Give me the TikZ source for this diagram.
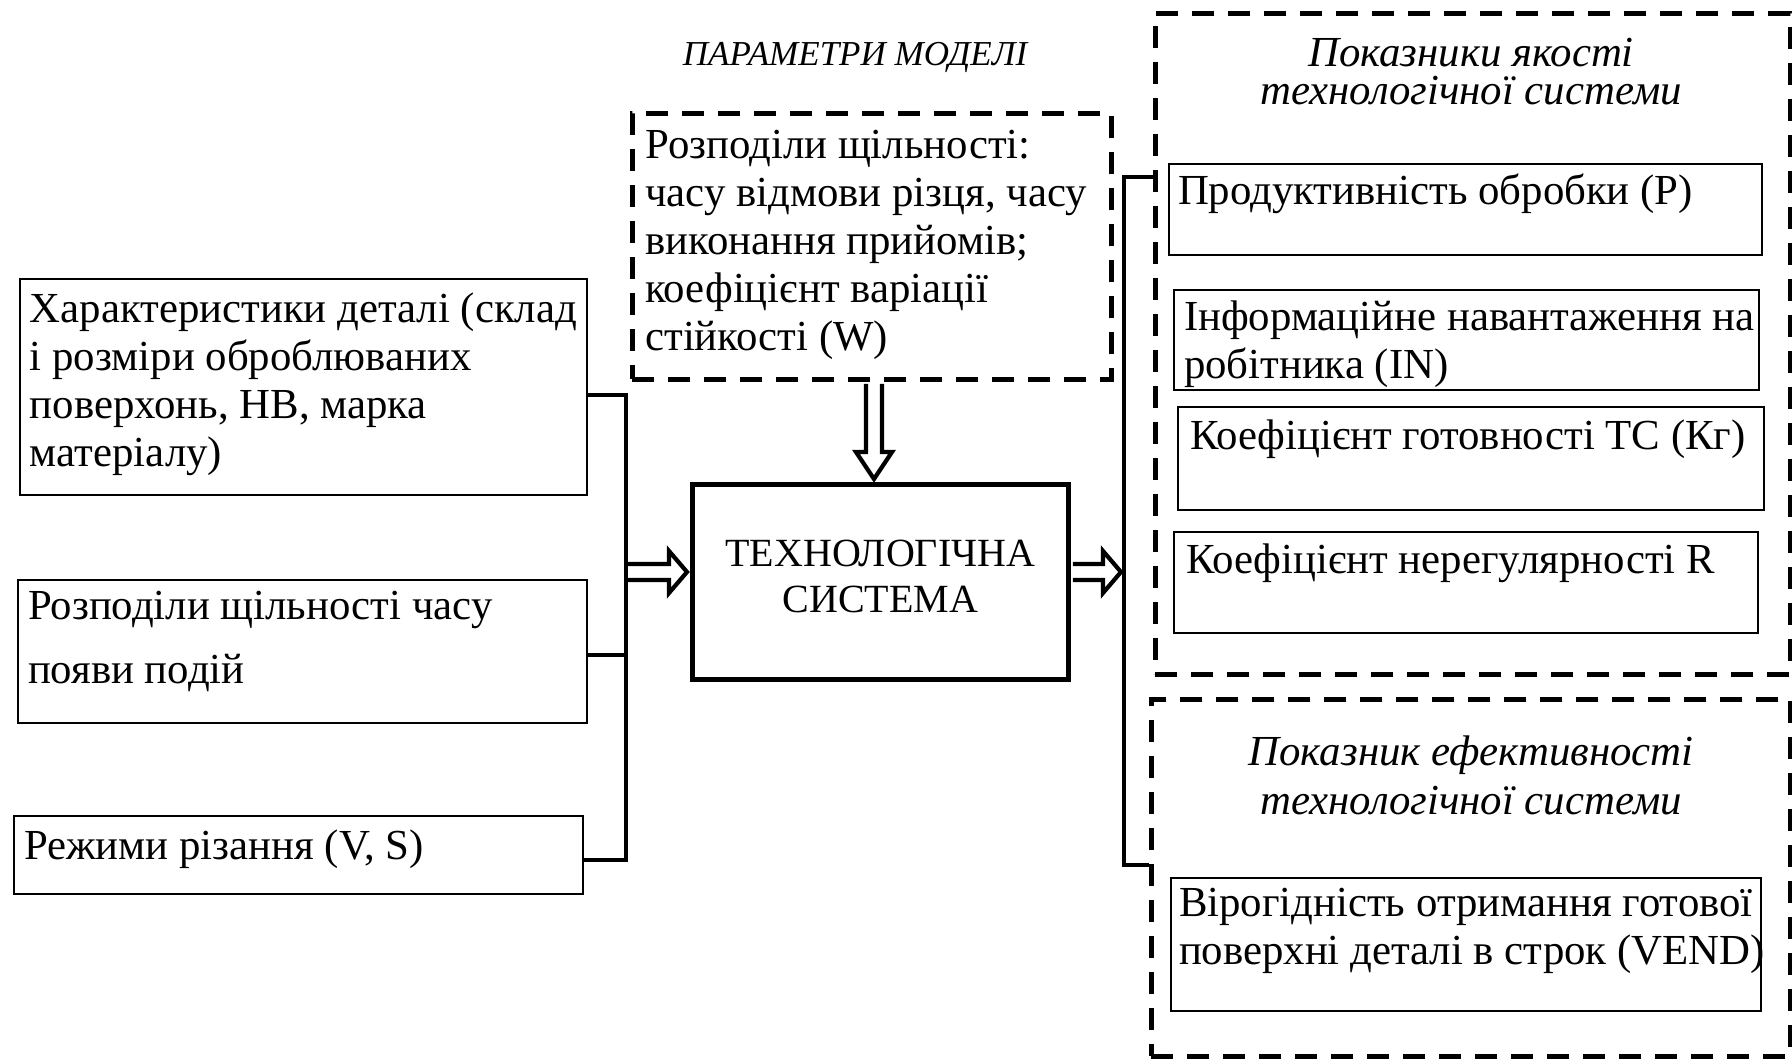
\documentclass[tikz,border=0pt]{standalone}
\usepackage{fontspec}
\setmainfont{Liberation Serif}
\usetikzlibrary{calc}

\newcommand{\bodyfont}{\fontsize{10.7pt}{12pt}\selectfont}
% hollow block arrow pointing right: shaft from #1, tip at #2
\newcommand{\blockarrowright}[2]{%
  \draw[hollowarrow] ($(#1)+(0,-8)$) -- ($(#2)+(-18,-8)$) -- ($(#2)+(-18,-21)$) -- (#2)
    -- ($(#2)+(-18,21)$) -- ($(#2)+(-18,8)$) -- ($(#1)+(0,8)$);}
% hollow block arrow pointing down: shaft from #1, tip at #2
\newcommand{\blockarrowdown}[2]{%
  \draw[hollowarrow] ($(#1)+(-8,0)$) -- ($(#2)+(-8,-27)$) -- ($(#2)+(-18,-27)$) -- (#2)
    -- ($(#2)+(18,-27)$) -- ($(#2)+(8,-27)$) -- ($(#1)+(8,0)$);}

\tikzset{
  every node/.style={inner sep=0pt},
  thinbox/.style={draw, line width=0.5pt, anchor=north west, font=\bodyfont},
  dashbox/.style={draw, line width=1.15pt, dash pattern=on 5.5pt off 3.5pt, anchor=north west},
  busline/.style={line width=1.1pt, line join=miter},
  hollowarrow/.style={draw, line width=1.05pt, fill=white, line join=miter},
  heading/.style={font=\fontsize{10.7pt}{9.5pt}\selectfont\itshape, align=center},
}

\begin{document}
\begin{tikzpicture}[x=0.25pt,y=-0.25pt]
\useasboundingbox (0,0) rectangle (1792,1059);

% model parameters
\node[font=\fontsize{8.75pt}{11pt}\selectfont\itshape] (ptitle) at (855,57) {ПАРАМЕТРИ МОДЕЛІ};
\node[dashbox, font=\bodyfont, inner xsep=3.25pt, inner ysep=4.2pt] (params) at (630,111)
  {\parbox[c][58.1pt][t]{113.25pt}{\raggedright Розподіли щільності:\\ часу відмови різця, часу\\ виконання прийомів;\\ коефіцієнт варіації\\ стійкості (W)}};

% inputs
\node[thinbox, inner xsep=2.5pt, inner ysep=3.5pt] (b1) at (19,278)
  {\parbox[c][47pt][t]{136.75pt}{\raggedright \mbox{Характеристики деталі (склад}\\ і розміри оброблюваних\\ поверхонь, НВ, марка\\ матеріалу)}};
\node[thinbox, font=\fontsize{10.7pt}{16pt}\selectfont, inner xsep=2.5pt, inner ysep=2.7pt] (b2) at (17,579)
  {\parbox[c][30.35pt][t]{137.25pt}{\raggedright Розподіли щільності часу\\ появи подій}};
\node[thinbox, inner xsep=2.5pt, inner ysep=3.5pt] (b3) at (13,815)
  {\parbox[c][12.5pt][t]{137.25pt}{\raggedright Режими різання (V, S)}};

% the system
\node[draw, line width=1.15pt, anchor=north west] (sys) at (690,482)
  {\parbox[c][48.75pt][c]{94pt}{\fontsize{10pt}{11.5pt}\selectfont\centering ТЕХНОЛОГІЧНА\\СИСТЕМА\par\vspace{2.9pt}}};

% quality indicators
\node[dashbox, minimum width=158.75pt, minimum height=165.25pt] (qbox) at (1153,11) {};
\node[heading] (qtitle) at (1471,72) {Показники якості\\технологічної системи};
\node[thinbox, inner xsep=2.25pt, inner ysep=2.5pt] (p) at (1168,163)
  {\parbox[c][17.75pt][t]{143.75pt}{\raggedright Продуктивність обробки (P)}};
\node[thinbox, inner xsep=2.5pt, inner ysep=2.75pt] (in) at (1173,289)
  {\parbox[c][19.5pt][t]{141.25pt}{\raggedright \mbox{Інформаційне навантаження на}\\ робітника (IN)}};
\node[thinbox, inner xsep=3pt, inner ysep=3.25pt] (kg) at (1177,406)
  {\parbox[c][19.25pt][t]{140.5pt}{\raggedright Коефіцієнт готовності ТС (Кг)}};
\node[thinbox, inner xsep=3pt, inner ysep=3pt] (r) at (1173,531)
  {\parbox[c][19.25pt][t]{140pt}{\raggedright Коефіцієнт нерегулярності R}};

% efficiency indicator
\node[dashbox, minimum width=159.75pt, minimum height=89.25pt] (ebox) at (1149,697) {};
\node[heading, font=\fontsize{10.7pt}{12.25pt}\selectfont\itshape] (etitle) at (1471,775)
  {Показник ефективності\\технологічної системи};
\node[thinbox, inner xsep=2pt, inner ysep=2.5pt] (vend) at (1170,877)
  {\parbox[c][28.25pt][t]{143.5pt}{\raggedright \mbox{Вірогідність отримання готової}\\ \mbox{поверхні деталі в строк (VEND)}}};

% left collecting bus
\coordinate (busx) at (626,572);
\coordinate (c1) at ($(b1.east)+(0,8)$);
\coordinate (c2) at ($(b2.east)+(0,3.5)$);
\coordinate (c3) at ($(b3.east)+(0,5)$);

% block arrows
\coordinate (lstart) at ($(busx)+(2.2,0)$);
\coordinate (ltip) at ($(sys.west |- busx)+(-3,0)$);
\blockarrowright{lstart}{ltip}

\coordinate (dx) at (874,0);
\coordinate (dstart) at ($(params.south -| dx)+(0,2.3)$);
\coordinate (dtip) at ($(sys.north -| dx)+(0,-3)$);
\blockarrowdown{dstart}{dtip}

\draw[busline] (c1) -| (busx |- c3) -- (c3);
\draw[busline] (c2) -- (busx |- c2);

% right distributing bracket
\coordinate (rtop) at (1124,177);
\coordinate (rbot) at (1124,865);
\coordinate (rstart) at ($(sys.east |- busx)+(2.3,0)$);
\coordinate (rtip) at ($(rtop |- busx)+(-3,0)$);
\blockarrowright{rstart}{rtip}
\draw[busline] (qbox.west |- rtop) -- (rtop) -- (rbot) -- (ebox.west |- rbot);
\end{tikzpicture}
\end{document}
